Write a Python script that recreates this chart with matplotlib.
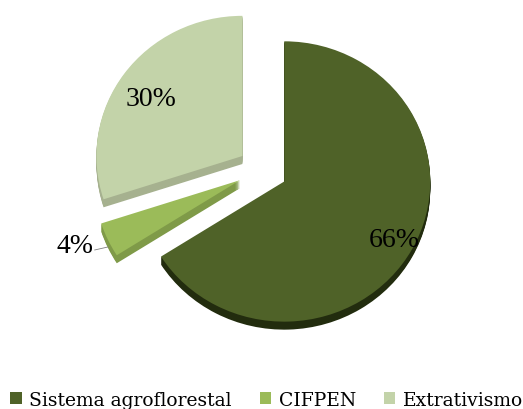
import numpy as np
import matplotlib
matplotlib.use("Agg")
import matplotlib.pyplot as plt
from matplotlib.patches import Patch

# Data
categories = ["Sistema agroflorestal", "CIFPEN", "Extrativismo"]
shares = [66, 4, 30]

top_colors = ["#4F6228", "#9BBB59", "#C3D3A9"]
side_colors = ["#222C0E", "#7F9A48", "#A6B18F"]

plt.rcParams["font.family"] = ["Liberation Serif", "DejaVu Serif"]

W, H = 523, 410
fig = plt.figure(figsize=(W / 100, H / 100), dpi=100)
ax = fig.add_axes([0, 0, 1, 1])

squash = 0.96           # slight tilt of the pie plane
center = (262.5, 239.0 / squash)
radius = 146
gap = 0.17 * radius     # every slice pulled out by the same distance
explode = [gap, gap, gap]
depth = 8               # thickness of the extruded pie, px

# side walls: stacked copies of the pie shifted downwards
for k in range(depth, 0, -1):
    ax.pie(shares, colors=side_colors, startangle=90, counterclock=False,
           explode=explode, radius=radius,
           center=(center[0], center[1] - k / squash),
           wedgeprops=dict(linewidth=0), frame=True)

wedges, _ = ax.pie(shares, colors=top_colors, startangle=90, counterclock=False,
                   explode=explode, radius=radius, center=center,
                   wedgeprops=dict(linewidth=0), frame=True)

# percentage labels (angle offset in degrees, distance as fraction of radius)
label_pos = [(0.0, 0.86), None, (3.0, 0.75)]
for w, v, pos in zip(wedges, shares, label_pos):
    mid = np.deg2rad((w.theta1 + w.theta2) / 2)
    cx, cy = w.center
    if pos is not None:
        a = mid + np.deg2rad(pos[0])
        d = pos[1]
        ax.text(cx + d * radius * np.cos(a), cy + d * radius * np.sin(a),
                f"{v}%", ha="center", va="center", fontsize=20, color="black")
    else:
        ex = cx + 1.0 * radius * np.cos(mid)
        ey = cy + 1.12 * radius * np.sin(mid)
        lx = cx + 1.1 * radius * np.cos(mid)
        ly = cy + 1.17 * radius * np.sin(mid)
        ax.plot([ex, lx], [ey, ly], color="#7F7F7F", lw=0.6)
        ax.text(lx - 1, ly + 5, f"{v}%", ha="right", va="center",
                fontsize=20, color="black")

ax.set_aspect("auto")
ax.set_xlim(0, W)
ax.set_ylim(0, H / squash)
ax.axis("off")

handles = [Patch(facecolor=c, edgecolor="none") for c in top_colors]
fig.legend(handles, categories, loc="lower center", bbox_to_anchor=(0.51, -0.018),
           ncol=3, frameon=False, prop=dict(family="DejaVu Serif", size=13.5),
           handlelength=0.6, handleheight=0.6,
           handletextpad=0.4, columnspacing=1.5, borderaxespad=0)

fig.savefig("out.png", dpi=100)
